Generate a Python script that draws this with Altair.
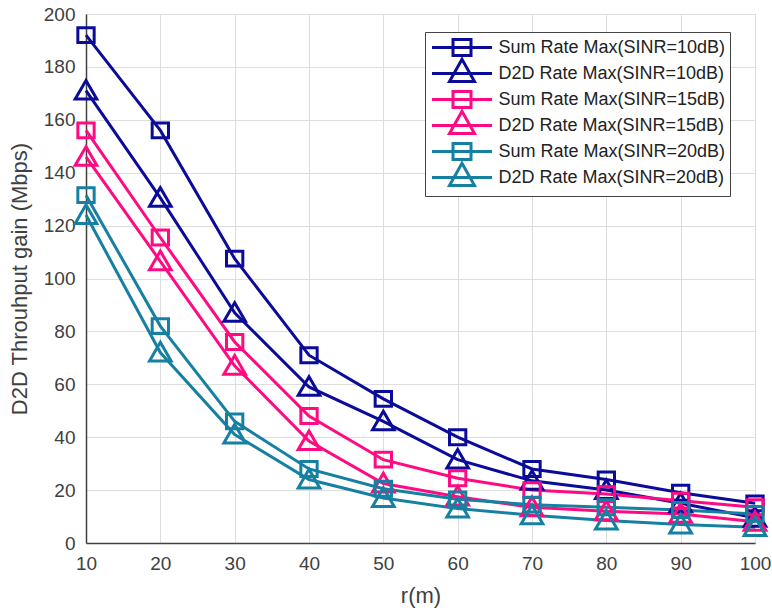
import altair as alt
import pandas as pd

r_values = [10, 20, 30, 40, 50, 60, 70, 80, 90, 100]
sum_rate_10 = [192, 156, 107.5, 71, 54.5, 40, 28, 24, 19, 15]
d2d_rate_10 = [171, 130.5, 87, 59, 46, 31.5, 23.5, 20, 15, 9.5]
sum_rate_15 = [156, 115.5, 76, 48, 31.5, 24.5, 20, 18.5, 16, 13.5]
d2d_rate_15 = [146, 106.5, 67, 38.5, 22.5, 17.5, 13.5, 12, 11, 8]
sum_rate_20 = [131.5, 82, 46, 28, 20.5, 16.5, 14.5, 13.5, 12.5, 11]
d2d_rate_20 = [124, 72, 41, 24, 17, 13, 10.5, 8.5, 7, 6]

series_names = [
    "Sum Rate Max(SINR=10dB)",
    "D2D Rate Max(SINR=10dB)",
    "Sum Rate Max(SINR=15dB)",
    "D2D Rate Max(SINR=15dB)",
    "Sum Rate Max(SINR=20dB)",
    "D2D Rate Max(SINR=20dB)",
]
series_values = [sum_rate_10, d2d_rate_10, sum_rate_15, d2d_rate_15, sum_rate_20, d2d_rate_20]
series_colors = ["#0b0b9a", "#0b0b9a", "#ff0a82", "#ff0a82", "#1680a2", "#1680a2"]

x_ticks = [10, 20, 30, 40, 50, 60, 70, 80, 90, 100]
y_ticks = [0, 20, 40, 60, 80, 100, 120, 140, 160, 180, 200]

# marker shapes (plot) and line+marker shapes (legend)
sq = "M-0.68,-0.62H0.68V0.62H-0.68Z"
tri = "M0,-0.85L-0.9,0.7H0.9Z"
marker_paths = [sq, tri, sq, tri, sq, tri]
leg_box = "M2,-1.45M2,0.8"
sq_leg = leg_box + "M-1,0H5M1.1,-0.8H2.9V0.8H1.1Z"
tri_leg = leg_box + "M-1,0H5M2,-1.43L0.75,0.8H3.25Z"
legend_paths = [sq_leg, tri_leg, sq_leg, tri_leg, sq_leg, tri_leg]

rows = []
for k, (name, vals) in enumerate(zip(series_names, series_values)):
    for r, v in zip(r_values, vals):
        rows.append({"r": r, "gain": v, "series": name, "order": k})
df = pd.DataFrame(rows)

font = "Liberation Sans"

x_enc = alt.X("r:Q", scale=alt.Scale(domain=[10, 100], nice=False, zero=False),
              axis=alt.Axis(values=x_ticks, title="r(m)", format="d"))
y_enc = alt.Y("gain:Q", scale=alt.Scale(domain=[0, 200], nice=False),
              axis=alt.Axis(values=y_ticks, title="D2D Throuhput gain (Mbps)", format="d"))

color_scale = alt.Scale(domain=series_names, range=series_colors)

lines = alt.Chart(df).mark_line(strokeWidth=3).encode(
    x=x_enc, y=y_enc,
    color=alt.Color("series:N", scale=color_scale, legend=None),
    order="order:Q",
)

points = alt.Chart(df).mark_point(filled=False, strokeWidth=3, size=576, opacity=1).encode(
    x=x_enc, y=y_enc,
    color=alt.Color("series:N", scale=color_scale, legend=None),
    shape=alt.Shape("series:N", scale=alt.Scale(domain=series_names, range=marker_paths), legend=None),
)

pad_chars = "\u00a0\u00a0\u00a0\u2009"
leg = alt.Legend(
    title=None, orient="none", legendX=339, legendY=18,
    fillColor="white", strokeColor="#444444", padding=4,
    labelFont=font, labelFontSize=18, labelColor="#222222", labelOffset=45,
    labelExpr="datum.label + '" + pad_chars + "'",
    symbolSize=400, symbolStrokeWidth=3, symbolOpacity=1, symbolOffset=1.5,
    rowPadding=-10.2, labelLimit=400,
)

legend_layer = alt.Chart(df).transform_filter("false").mark_point(filled=False, strokeWidth=3, opacity=1).encode(
    x=x_enc, y=y_enc,
    color=alt.Color("series:N", scale=color_scale, legend=leg),
    shape=alt.Shape("series:N", scale=alt.Scale(domain=series_names, range=legend_paths), legend=leg),
)

chart = alt.layer(lines, points, legend_layer).resolve_scale(
    color="independent", shape="independent"
).properties(
    width=669, height=529,
    autosize=alt.AutoSizeParams(type="none"),
    padding={"left": 86, "top": 14, "right": 17, "bottom": 68},
    background="white",
).configure_view(
    stroke="#9a9a9a", strokeWidth=1
).configure_axis(
    labelFont=font, labelFontSize=19, labelColor="#404040", labelFlush=False,
    titleFont=font, titleFontSize=22, titleColor="#404040", titleFontWeight="normal",
    domainColor="#404040", domainWidth=1.5,
    gridColor="#dedede", gridWidth=1,
    ticks=False, labelPadding=11,
).configure_axisX(titlePadding=12).configure_axisY(titlePadding=12)

chart.save("out.html", embed_options={"renderer": "svg", "actions": False})
